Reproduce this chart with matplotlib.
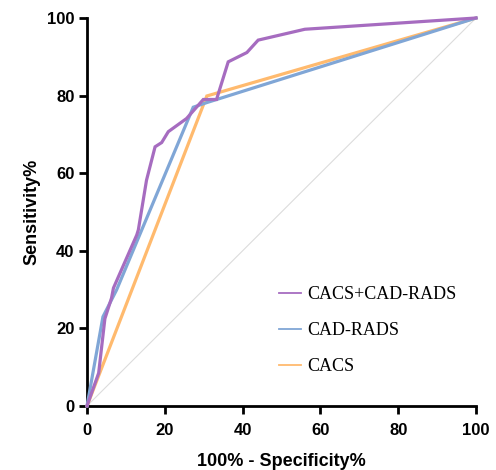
import matplotlib.pyplot as plt

# ROC curves (x = 100% - specificity, y = sensitivity)
combo_x = [0, 3.0, 4.6, 6.3, 6.8, 12.8, 13.2, 15.3, 17.5, 19.2, 20.9, 25.6, 29.9, 33.3, 36.3, 41.1, 44.0, 56.0, 100]
combo_y = [0, 8.5, 22.5, 27.8, 30.4, 44.1, 45.4, 58.2, 66.8, 67.9, 70.7, 74.1, 79.0, 79.0, 88.7, 91.1, 94.3, 97.1, 100]

cadrads_x = [0, 4.1, 7.6, 27.3, 30.8, 100]
cadrads_y = [0, 23.0, 29.9, 77.0, 78.2, 100]

cacs_x = [0, 30.8, 100]
cacs_y = [0, 79.9, 100]

labels = ['CACS+CAD-RADS', 'CAD-RADS', 'CACS']
colors = ['#A66CC0', '#80A6D6', '#FFBA6E']
ticks = [0, 20, 40, 60, 80, 100]

fig = plt.figure(figsize=(4.96, 4.70), dpi=100)
ax = fig.add_axes([0.1754, 0.1362, 0.7843, 0.8255])

# reference diagonal
ax.plot([0, 100], [0, 100], color='#DCDCDC', lw=0.8, zorder=1)

series = [(combo_x, combo_y), (cadrads_x, cadrads_y), (cacs_x, cacs_y)]
for (xs, ys), lab, c in zip(series[::-1], labels[::-1], colors[::-1]):
    ax.plot(xs, ys, color=c, lw=2.3, solid_joinstyle='miter', clip_on=False, zorder=3)

# thin legend handles like the original
handles = [plt.Line2D([], [], color=c, lw=1.3) for c in colors]
leg = ax.legend(handles, labels, loc='lower left', bbox_to_anchor=(0.453, 0.038),
                frameon=False, handlelength=1.2, handletextpad=0.35, labelspacing=1.05,
                prop={'family': 'Liberation Serif', 'size': 13})

ax.set_xlim(0, 100)
ax.set_ylim(0, 100)
ax.set_xticks(ticks)
ax.set_yticks(ticks)
for s in ['top', 'right']:
    ax.spines[s].set_visible(False)
for s in ['left', 'bottom']:
    ax.spines[s].set_linewidth(2)
ax.tick_params(width=2, length=6, labelsize=12)
ax.tick_params(axis='x', pad=6)
ax.tick_params(axis='y', pad=3)
for t in ax.get_xticklabels() + ax.get_yticklabels():
    t.set_fontweight('bold')
    t.set_family('Liberation Sans')

ax.set_xlabel('100% - Specificity%', fontsize=13, fontweight='bold', family='Liberation Sans', labelpad=11)
ax.set_ylabel('Sensitivity%', fontsize=13, fontweight='bold', family='Liberation Sans', labelpad=5)

fig.savefig('out.png', dpi=100)
